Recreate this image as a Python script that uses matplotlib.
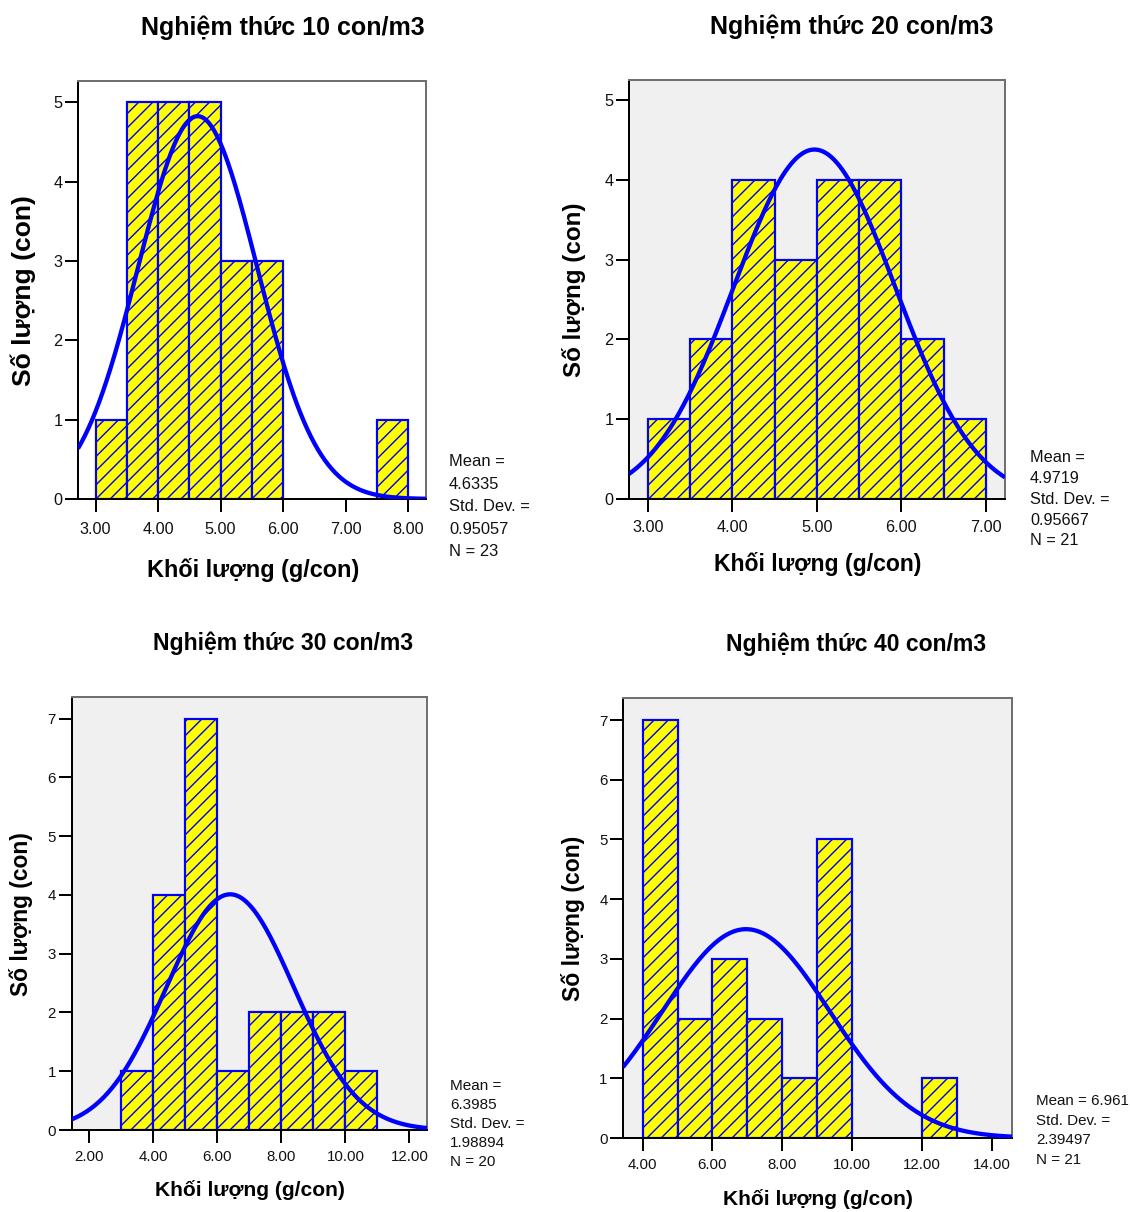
import numpy as np
import matplotlib
matplotlib.use("Agg")
import matplotlib.pyplot as plt

plt.rcParams['font.family'] = ['Liberation Sans', 'DejaVu Sans']
plt.rcParams['hatch.linewidth'] = 1.2

# ---------------- data ----------------
titles = ["Nghiệm thức 10 con/m3", "Nghiệm thức 20 con/m3",
          "Nghiệm thức 30 con/m3", "Nghiệm thức 40 con/m3"]
xlabel = "Khối lượng (g/con)"
ylabel = "Số lượng (con)"

bins10 = [3.0, 3.5, 4.0, 4.5, 5.0, 5.5, 6.0, 6.5, 7.0, 7.5]
counts10 = [1, 5, 5, 5, 3, 3, 0, 0, 0, 1]
bins20 = [3.0, 3.5, 4.0, 4.5, 5.0, 5.5, 6.0, 6.5]
counts20 = [1, 2, 4, 3, 4, 4, 2, 1]
bins30 = [3.0, 4.0, 5.0, 6.0, 7.0, 8.0, 9.0, 10.0]
counts30 = [1, 4, 7, 1, 2, 2, 2, 1]
bins40 = [4.0, 5.0, 6.0, 7.0, 8.0, 9.0, 10.0, 11.0, 12.0]
counts40 = [7, 2, 3, 2, 1, 5, 0, 0, 1]

widths = [0.5, 0.5, 1.0, 1.0]
means = [4.6335, 4.9719, 6.3985, 6.961]
sds = [0.95057, 0.95667, 1.98894, 2.39497]
ns = [23, 21, 20, 21]

stats_lines = [
    ["Mean =", "4.6335", "Std. Dev. =", "0.95057", "N = 23"],
    ["Mean =", "4.9719", "Std. Dev. =", "0.95667", "N = 21"],
    ["Mean =", "6.3985", "Std. Dev. =", "1.98894", "N = 20"],
    ["Mean = 6.961", "Std. Dev. =", "2.39497", "N = 21"],
]

xticks = [[3, 4, 5, 6, 7, 8], [3, 4, 5, 6, 7], [2, 4, 6, 8, 10, 12], [4, 6, 8, 10, 12, 14]]
yticks = [[0, 1, 2, 3, 4, 5], [0, 1, 2, 3, 4, 5], list(range(8)), list(range(8))]

# ---------------- layout (pixels) ----------------
W, H = 1130, 1212
DPI = 85
def pt(px):
    return px * 72.0 / DPI

# left, right, top, bottom
boxes = [(78, 426, 81, 499), (629, 1005, 80, 499),
         (71.5, 427, 697, 1130), (623, 1012, 698, 1138)]
xlims = [(2.72, 8.285), (2.776, 7.228), (1.44, 12.55), (3.44, 14.57)]
ylims = [(0, 5.27), (0, 5.25), (0, 7.37), (0, 7.37)]
facecols = ['white', '#F0F0F0', '#F0F0F0', '#F0F0F0']

title_pos = [(283, 28, 25), (852, 27, 25), (283, 643, 23), (856, 644, 23)]
xlabel_pos = [(253, 570, 23.5), (818, 564, 23), (250, 1190, 21), (818, 1199, 21)]
ylabel_pos = [(23, 291, 26.5), (574, 290, 24.2), (21, 914, 22.8), (573, 918, 23)]
tick_px = [16.2, 16.2, 15, 15]
xpad_px = [10, 8, 7, 7]
stats_pos = [(449, 462, 22.5, 16.5), (1030, 458, 20.7, 16.3),
             (450, 1086, 19.0, 15.2), (1036, 1101, 19.6, 15.1)]

BLUE = '#0000FF'
YEL = '#FFFF00'

fig = plt.figure(figsize=(W / DPI, H / DPI), dpi=DPI)

all_bins = [bins10, bins20, bins30, bins40]
all_counts = [counts10, counts20, counts30, counts40]

for i in range(4):
    l, r, t, b = boxes[i]
    ax = fig.add_axes([l / W, 1 - b / H, (r - l) / W, (b - t) / H])
    ax.set_facecolor(facecols[i])
    bins = np.array(all_bins[i])
    cnts = np.array(all_counts[i])
    m = cnts > 0
    ax.bar(bins[m], cnts[m], width=widths[i], align='edge', color=YEL,
           edgecolor=BLUE, linewidth=pt(2.2), hatch='//', zorder=2)
    xs = np.linspace(xlims[i][0], xlims[i][1], 400)
    ys = ns[i] * widths[i] * np.exp(-0.5 * ((xs - means[i]) / sds[i]) ** 2) / (sds[i] * np.sqrt(2 * np.pi))
    ax.plot(xs, ys, color=BLUE, linewidth=pt(4.3), zorder=3, solid_capstyle='butt')
    ax.set_xlim(*xlims[i])
    ax.set_ylim(*ylims[i])
    ax.set_xticks(xticks[i])
    ax.set_xticklabels(["%.2f" % v for v in xticks[i]])
    ax.set_yticks(yticks[i])
    ax.set_yticklabels([str(v) for v in yticks[i]])
    ax.tick_params(axis='both', direction='out', length=pt(13), width=pt(2),
                   labelsize=pt(tick_px[i]), color='black', labelcolor='#111111')
    ax.tick_params(axis='x', pad=pt(xpad_px[i]))
    ax.tick_params(axis='y', pad=pt(2.5))
    for s in ['left', 'bottom']:
        ax.spines[s].set_color('black')
        ax.spines[s].set_linewidth(pt(2))
    for s in ['top', 'right']:
        ax.spines[s].set_color('#707070')
        ax.spines[s].set_linewidth(pt(2))

    tx, ty, ts = title_pos[i]
    fig.text(tx / W, 1 - ty / H, titles[i], ha='center', va='center',
             fontsize=pt(ts), fontweight='bold')
    xx, xy, xs_ = xlabel_pos[i]
    fig.text(xx / W, 1 - xy / H, xlabel, ha='center', va='center',
             fontsize=pt(xs_), fontweight='bold')
    yx, yy, ys_ = ylabel_pos[i]
    fig.text(yx / W, 1 - yy / H, ylabel, ha='center', va='center',
             rotation=90, fontsize=pt(ys_), fontweight='bold')
    sx, sy, sdy, sfs = stats_pos[i]
    for k, line in enumerate(stats_lines[i]):
        fig.text(sx / W, 1 - (sy + k * sdy) / H, line, ha='left', va='center',
                 fontsize=pt(sfs), color='#111111')

fig.savefig('out.png', dpi=DPI)
